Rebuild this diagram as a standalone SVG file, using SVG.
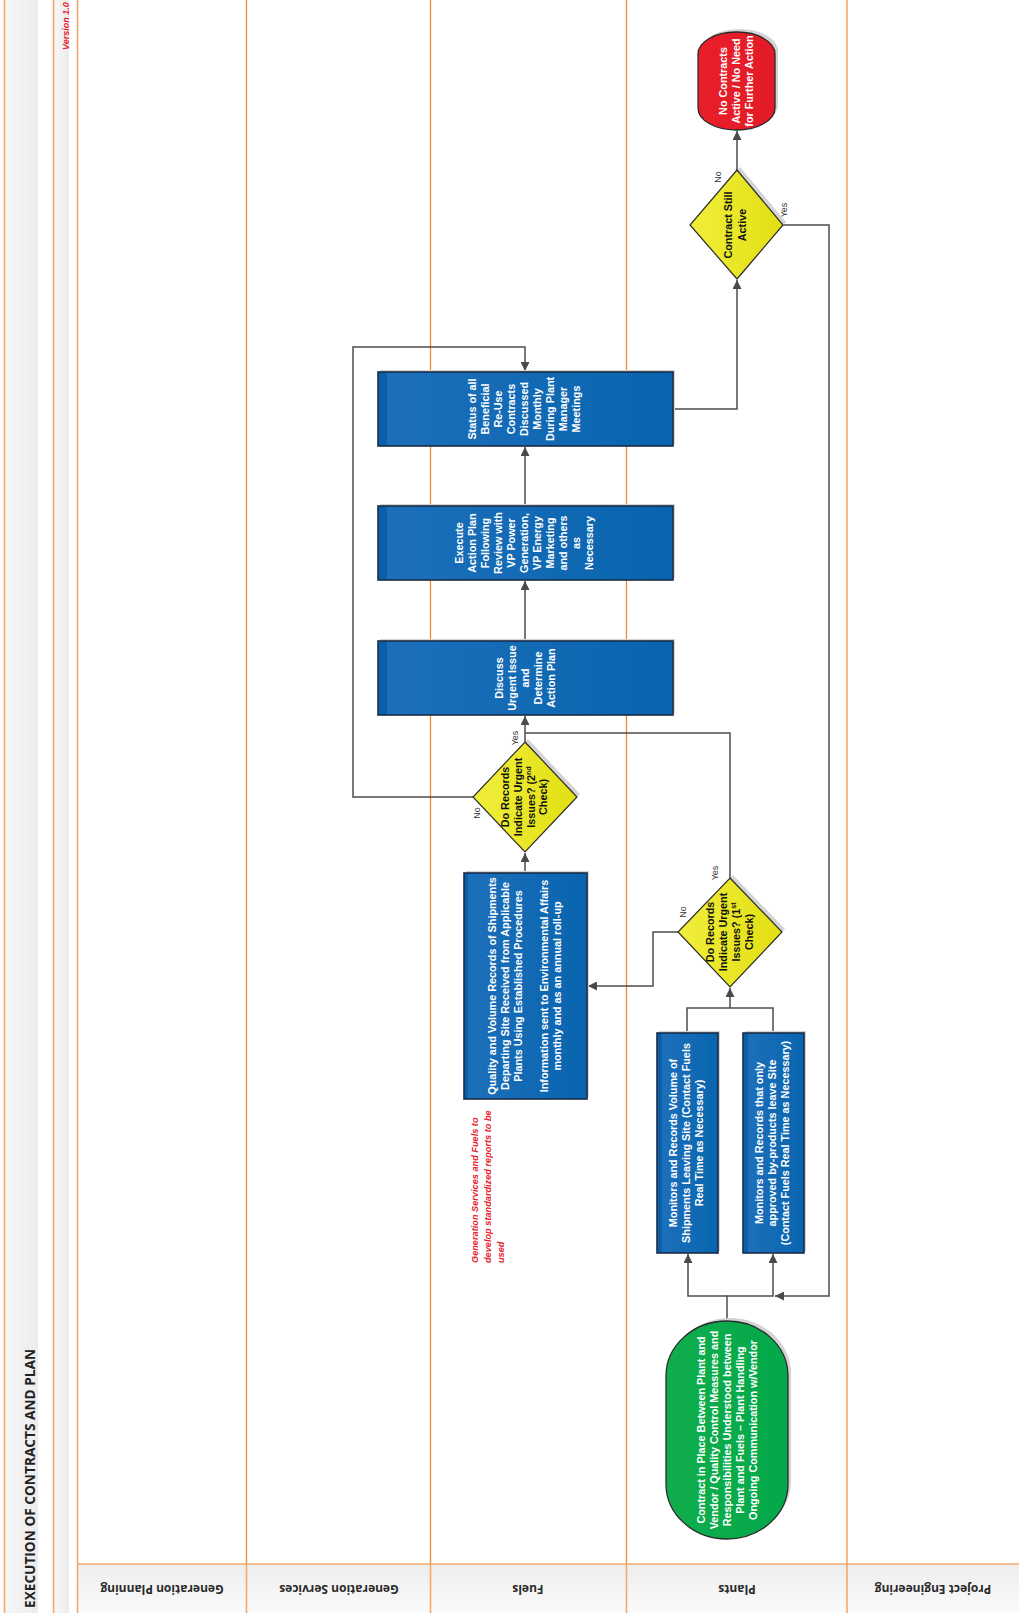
<svg xmlns="http://www.w3.org/2000/svg" width="1019" height="1613" viewBox="0 0 1019 1613">
<defs>
<linearGradient id="gBlue" x1="0" y1="0" x2="1" y2="0"><stop offset="0" stop-color="#0b5ea8"/><stop offset="0.085" stop-color="#0b5ea8"/><stop offset="0.09" stop-color="#1d6fba"/><stop offset="1" stop-color="#0864ae"/></linearGradient>
<linearGradient id="gBlueN" x1="0" y1="0" x2="1" y2="0"><stop offset="0" stop-color="#0b5ea8"/><stop offset="0.03" stop-color="#0b5ea8"/><stop offset="0.032" stop-color="#1d6fba"/><stop offset="1" stop-color="#0864ae"/></linearGradient>
<linearGradient id="gYel" x1="0" y1="0" x2="1" y2="0"><stop offset="0" stop-color="#f0ee3c"/><stop offset="1" stop-color="#e2df12"/></linearGradient>
<linearGradient id="gGreen" x1="0" y1="0" x2="1" y2="0"><stop offset="0" stop-color="#10ad4c"/><stop offset="1" stop-color="#03a84a"/></linearGradient>
<linearGradient id="gRed" x1="0" y1="0" x2="1" y2="0"><stop offset="0" stop-color="#e81f2b"/><stop offset="1" stop-color="#e31b27"/></linearGradient>
<linearGradient id="gBand" x1="0" y1="0" x2="1" y2="0"><stop offset="0" stop-color="#f7f7f7"/><stop offset="1" stop-color="#ececec"/></linearGradient>
<linearGradient id="gHead" x1="0" y1="0" x2="0" y2="1"><stop offset="0" stop-color="#eeeeee"/><stop offset="1" stop-color="#fafafa"/></linearGradient>
<marker id="arr" markerUnits="userSpaceOnUse" markerWidth="10" markerHeight="9" refX="9" refY="4.5" orient="auto"><path d="M0,0 L9,4.5 L0,9 z" fill="#4a4a4a"/></marker>
</defs>
<style>
.lane{stroke:#f08a35;stroke-width:1.3;fill:none}
.lane2{stroke:#f4a86c;stroke-width:1.6;fill:none}
.conn{stroke:#4d4d4d;stroke-width:1.5;fill:none}
.box{fill:url(#gBlue);stroke:#1a2c48;stroke-width:1.6}
.boxn{fill:url(#gBlueN);stroke:#1a2c48;stroke-width:1.6}
.dia{fill:url(#gYel);stroke:#2b2b2b;stroke-width:1.2}
.sh{fill:#d4d4d4}
.wt{font-family:"Liberation Sans",Arial,sans-serif;font-size:10.8px;font-weight:bold;fill:#ffffff;text-anchor:middle}
.bt{font-family:"Liberation Sans",Arial,sans-serif;font-size:10.8px;font-weight:bold;fill:#111111;text-anchor:middle}
.yn{font-family:"Liberation Sans",Arial,sans-serif;font-size:9px;fill:#333333;text-anchor:middle}
.hd{font-family:"Open Sans","DejaVu Sans",sans-serif;font-size:12px;font-weight:bold;fill:#2a2a2a;text-anchor:middle}
.note{font-family:"Liberation Sans",Arial,sans-serif;font-size:9.2px;font-weight:bold;font-style:italic;fill:#e8202a}
</style>

<g id="frame">
<rect x="0" y="0" width="1019" height="1613" fill="#ffffff"/>
<rect x="5" y="0" width="33" height="1613" fill="url(#gBand)"/>
<rect x="54" y="0" width="15" height="1613" fill="url(#gBand)"/>
<rect x="77" y="1564" width="942" height="49" fill="url(#gHead)"/>
<line class="lane2" x1="4.5" y1="0" x2="4.5" y2="1613"/>
<line class="lane2" x1="53.5" y1="0" x2="53.5" y2="1613"/>
<line class="lane2" x1="77.5" y1="0" x2="77.5" y2="1613"/>
<line class="lane" x1="246.5" y1="0" x2="246.5" y2="1564"/>
<line class="lane" x1="430.5" y1="0" x2="430.5" y2="1564"/>
<line class="lane" x1="626.5" y1="0" x2="626.5" y2="1564"/>
<line class="lane2" x1="847" y1="0" x2="847" y2="1564"/>
<line class="lane2" x1="246.5" y1="1564" x2="246.5" y2="1613"/>
<line class="lane2" x1="430.5" y1="1564" x2="430.5" y2="1613"/>
<line class="lane2" x1="626.5" y1="1564" x2="626.5" y2="1613"/>
<line class="lane2" x1="847" y1="1564" x2="847" y2="1613"/>
<line class="lane2" x1="77" y1="1564" x2="1019" y2="1564"/>
<text transform="rotate(-90)" x="-1608" y="34.5" font-family="'Open Sans','DejaVu Sans',sans-serif" font-size="15" font-weight="bold" fill="#222222" textLength="259" lengthAdjust="spacingAndGlyphs">EXECUTION OF CONTRACTS AND PLAN</text>
<text transform="rotate(-90)" x="-50" y="69" font-family="'Liberation Sans',Arial,sans-serif" font-size="9" font-weight="bold" font-style="italic" fill="#e8202a">Version 1.0</text>
<g transform="rotate(180)">
<text class="hd" x="-162" y="-1584.5">Generation Planning</text>
<text class="hd" x="-339" y="-1584.5">Generation Services</text>
<text class="hd" x="-528" y="-1584.5">Fuels</text>
<text class="hd" x="-737" y="-1584.5">Plants</text>
<text class="hd" x="-933" y="-1584.5">Project Engineering</text>
</g>
</g>

<g id="connectors">
<path class="conn" d="M727,1321 V1296 H688 V1254" marker-end="url(#arr)"/>
<path class="conn" d="M727,1296 H773 V1254" marker-end="url(#arr)"/>
<path class="conn" d="M783,225 H829 V1296 H775" marker-end="url(#arr)"/>
<path class="conn" d="M687,1033 V1008 H773 V1033"/>
<path class="conn" d="M730,1008 V988" marker-end="url(#arr)"/>
<path class="conn" d="M678,932 H653 V986 H588" marker-end="url(#arr)"/>
<path class="conn" d="M730,878 V733 H525"/>
<path class="conn" d="M525,873 V853" marker-end="url(#arr)"/>
<path class="conn" d="M525,742 V716" marker-end="url(#arr)"/>
<path class="conn" d="M473,797 H353 V347 H525 V371" marker-end="url(#arr)"/>
<path class="conn" d="M525,641 V581" marker-end="url(#arr)"/>
<path class="conn" d="M525,506 V447" marker-end="url(#arr)"/>
<path class="conn" d="M673,409 H737 V280" marker-end="url(#arr)"/>
<path class="conn" d="M737,170 V131" marker-end="url(#arr)"/>
<g transform="rotate(-90)">
<text class="yn" x="-177" y="721">No</text>
<text class="yn" x="-210" y="787">Yes</text>
<text class="yn" x="-813" y="480">No</text>
<text class="yn" x="-738" y="518">Yes</text>
<text class="yn" x="-912" y="686">No</text>
<text class="yn" x="-873" y="718">Yes</text>
</g>
</g>

<g id="n_end">
<rect x="701" y="29" width="77" height="98" rx="38" ry="22" class="sh"/>
<rect x="698" y="32" width="77" height="98" rx="38" ry="22" fill="url(#gRed)" stroke="#2a2a2a" stroke-width="1.3"/>
<text class="wt" transform="rotate(-90)"><tspan x="-81" y="727">No Contracts</tspan><tspan x="-81" y="740">Active / No Need</tspan><tspan x="-81" y="753">for Further Action</tspan></text>
</g>

<g id="n_active">
<polygon class="sh" points="740,167 786,222 740,277 693,222"/>
<polygon class="dia" points="737,170 783,225 737,279 690,225"/>
<text class="bt" transform="rotate(-90)"><tspan x="-225" y="732">Contract Still</tspan><tspan x="-225" y="746">Active</tspan></text>
</g>

<g id="n_status">
<rect x="380" y="370" width="295" height="74" class="sh"/>
<rect x="378" y="372" width="295" height="74" class="boxn"/>
<text class="wt" transform="rotate(-90)"><tspan x="-409" y="476">Status of all</tspan><tspan x="-409" y="489">Beneficial</tspan><tspan x="-409" y="502">Re-Use</tspan><tspan x="-409" y="515">Contracts</tspan><tspan x="-409" y="528">Discussed</tspan><tspan x="-409" y="541">Monthly</tspan><tspan x="-409" y="554">During Plant</tspan><tspan x="-409" y="567">Manager</tspan><tspan x="-409" y="580">Meetings</tspan></text>
</g>

<g id="n_execute">
<rect x="380" y="504" width="295" height="74" class="sh"/>
<rect x="378" y="506" width="295" height="74" class="boxn"/>
<text class="wt" transform="rotate(-90)"><tspan x="-543" y="463">Execute</tspan><tspan x="-543" y="476">Action Plan</tspan><tspan x="-543" y="489">Following</tspan><tspan x="-543" y="502">Review with</tspan><tspan x="-543" y="515">VP Power</tspan><tspan x="-543" y="528">Generation,</tspan><tspan x="-543" y="541">VP Energy</tspan><tspan x="-543" y="554">Marketing</tspan><tspan x="-543" y="567">and others</tspan><tspan x="-543" y="580">as</tspan><tspan x="-543" y="593">Necessary</tspan></text>
</g>

<g id="n_discuss">
<rect x="380" y="639" width="295" height="74" class="sh"/>
<rect x="378" y="641" width="295" height="74" class="boxn"/>
<text class="wt" transform="rotate(-90)"><tspan x="-678" y="503">Discuss</tspan><tspan x="-678" y="516">Urgent Issue</tspan><tspan x="-678" y="529">and</tspan><tspan x="-678" y="542">Determine</tspan><tspan x="-678" y="555">Action Plan</tspan></text>
</g>

<g id="n_check2">
<polygon class="sh" points="528,739 580,794 528,849 476,794"/>
<polygon class="dia" points="525,742 577,797 525,852 473,797"/>
<text class="bt" transform="rotate(-90)"><tspan x="-797" y="509">Do Records</tspan><tspan x="-797" y="522">Indicate Urgent</tspan><tspan x="-797" y="535">Issues? (2<tspan font-size="7" dy="-4">nd</tspan></tspan><tspan x="-797" y="547">Check)</tspan></text>
</g>

<g id="n_fuels">
<rect x="466" y="871" width="123" height="226" class="sh"/>
<rect x="464" y="873" width="123" height="226" class="boxn"/>
<text class="wt" transform="rotate(-90)"><tspan x="-986" y="496">Quality and Volume Records of Shipments</tspan><tspan x="-986" y="509">Departing Site Received from Applicable</tspan><tspan x="-986" y="522">Plants Using Established Procedures</tspan><tspan x="-986" y="548">Information sent to Environmental Affairs</tspan><tspan x="-986" y="561">monthly and as an annual roll-up</tspan></text>
</g>

<g id="n_note">
<text class="note" transform="rotate(-90)"><tspan x="-1263" y="478">Generation Services and Fuels to</tspan><tspan x="-1263" y="491">develop standardized reports to be</tspan><tspan x="-1263" y="504">used</tspan></text>
</g>

<g id="n_check1">
<polygon class="sh" points="733,875 785,929 733,984 681,929"/>
<polygon class="dia" points="730,878 782,932 730,987 678,932"/>
<text class="bt" transform="rotate(-90)"><tspan x="-932" y="714">Do Records</tspan><tspan x="-932" y="727">Indicate Urgent</tspan><tspan x="-932" y="740">Issues? (1<tspan font-size="7" dy="-4">st</tspan></tspan><tspan x="-932" y="753">Check)</tspan></text>
</g>

<g id="n_monitor1">
<rect x="659" y="1031" width="61" height="220" class="sh"/>
<rect x="657" y="1033" width="61" height="220" class="box"/>
<text class="wt" transform="rotate(-90)"><tspan x="-1143" y="677">Monitors and Records Volume of</tspan><tspan x="-1143" y="690">Shipments Leaving Site (Contact Fuels</tspan><tspan x="-1143" y="703">Real Time as Necessary)</tspan></text>
</g>

<g id="n_monitor2">
<rect x="745" y="1031" width="61" height="220" class="sh"/>
<rect x="743" y="1033" width="61" height="220" class="box"/>
<text class="wt" transform="rotate(-90)"><tspan x="-1143" y="763">Monitors and Records that only</tspan><tspan x="-1143" y="776">approved by-products leave Site</tspan><tspan x="-1143" y="789">(Contact Fuels Real Time as Necessary)</tspan></text>
</g>

<g id="n_start">
<rect x="669" y="1318" width="122" height="218" rx="61" ry="55" class="sh"/>
<rect x="666" y="1321" width="122" height="218" rx="61" ry="55" fill="url(#gGreen)" stroke="#2a2a2a" stroke-width="1.3"/>
<text class="wt" transform="rotate(-90)"><tspan x="-1430" y="705">Contract in Place Between Plant and</tspan><tspan x="-1430" y="718">Vendor / Quality Control Measures and</tspan><tspan x="-1430" y="731">Responsibilities Understood between</tspan><tspan x="-1430" y="744">Plant and Fuels – Plant Handling</tspan><tspan x="-1430" y="757">Ongoing Communication w/Vendor</tspan></text>
</g>
</svg>
